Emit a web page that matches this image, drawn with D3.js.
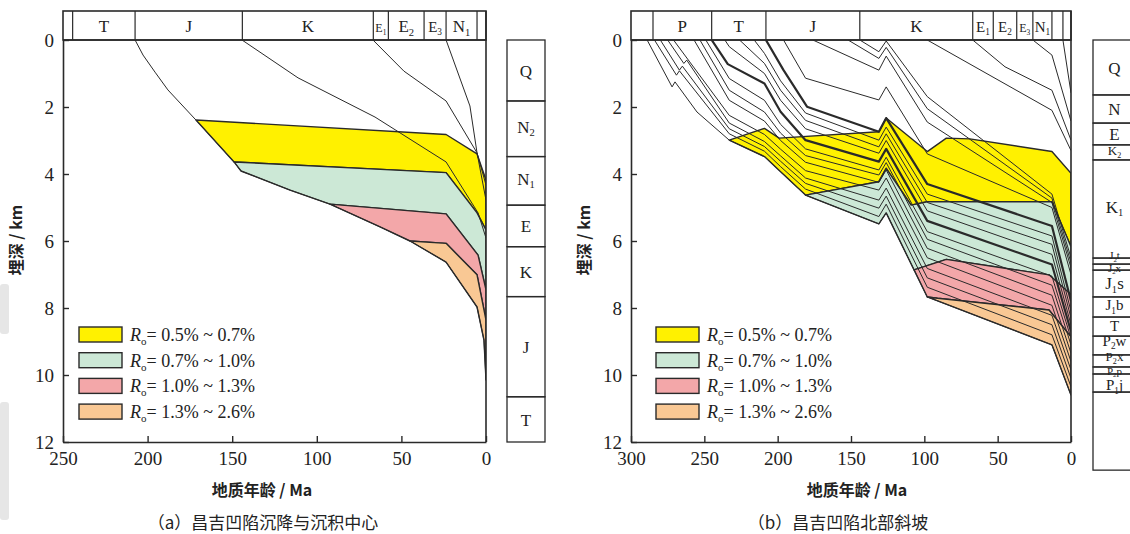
<!DOCTYPE html>
<html><head><meta charset="utf-8">
<script src="https://cdn.jsdelivr.net/npm/d3@7"></script>
<style>body{margin:0;background:#fff}svg{display:block}</style>
</head><body>
<svg id="c" width="1130" height="534"></svg>
<script>
// ---------------- shared data ----------------
const depthTicks=[0,2,4,6,8,10,12];
const ageTicksA=[250,200,150,100,50,0];
const ageTicksB=[300,250,200,150,100,50,0];
const roRanges=["0.5% ~ 0.7%","0.7% ~ 1.0%","1.0% ~ 1.3%","1.3% ~ 2.6%"];
const roColors=["#fff100","#cce8d6","#f3a7a9","#f9c894"];

// ---------------- panel (a) ----------------
const stripAgesA=[250,244.3,207.4,144,66.6,57.7,36.6,23.6,5.3,0];
const stripLabelsA=["","T","J","K","E_1","E_2","E_3","N_1",""];
const colDepthsA=[0,1.82,3.48,4.93,6.17,7.66,10.65,12.0];
const colLabelsA=["Q","N_2","N_1","E","K","J","T"];
const baseA=[[207.4,0],[202.7,0.45],[195.6,0.96],[188,1.49],[171.4,2.39],[148.9,3.64],[144.8,3.91],[115.8,4.48],[92.2,4.9],[62.6,5.58],[44.9,6.0],[23.6,6.63],[5.3,7.97],[1.2,8.96],[0,10.15]];
const horizKA=[[144.2,0],[111.1,1.13],[65.6,2.3],[23.6,3.64],[4.7,5.16],[0,5.91]];
const horizEA=[[66.8,0],[48.5,0.93],[23.6,1.82],[5.3,3.37],[0,4.78]];
const horizNA=[[23.6,0],[9.5,1.97],[5.3,3.37],[0,4.33]];
const ro05A=[[171.4,2.39],[23.6,2.82],[5.3,3.40],[0,4.18]];
const ro07A=[[148.9,3.64],[23.6,3.96],[5.3,5.16],[0,5.67]];
const ro10A=[[92.2,4.9],[23.6,5.19],[4.7,6.42],[0,7.46]];
const ro13A=[[44.9,6.0],[23.6,6.07],[5.3,7.01],[0,8.36]];

// ---------------- panel (b) ----------------
const stripAgesB=[300,285,245,208,144,67,53,37,26,13,5.5,0];
const stripLabelsB=["","P","T","J","K","E_1","E_2","E_3","N_1","",""];
const colDepthsB=[0,1.64,2.48,3.13,3.58,6.51,6.69,6.87,7.67,8.27,8.84,9.40,9.76,9.97,10.51,12.84];
const colLabelsB=["Q","N","E","K_2","K_1","J_2t","J_2x","J_1s","J_1b","T","P_2w","P_2x","P_2p","P_1j",""];
const h1B=[[289,0],[272,1.40],[270,1.25],[255,2.15],[233,2.99],[209,3.48],[198,3.93],[181,4.63],[131,5.49],[126,5.16],[98,7.67],[13,9.10],[0,10.60]];
const h2B=[[284,0],[269,1.05],[267,0.92],[233,2.80],[209,3.32],[198,3.78],[181,4.45],[131,5.27],[126,4.90],[98,7.38],[13,8.80],[0,10.35]];
const h3B=[[280,0],[267,0.90],[265,0.78],[233,2.65],[209,3.18],[198,3.62],[181,4.28],[131,5.02],[126,4.66],[98,7.10],[13,8.50],[0,10.10]];
const h4B=[[275,0],[264,0.70],[262,0.60],[233,2.48],[209,3.03],[198,3.46],[181,4.12],[131,4.78],[126,4.42],[98,6.82],[13,8.22],[0,9.85]];
const h5B=[[271,0],[233,2.25],[209,2.82],[198,3.26],[181,3.90],[131,4.48],[126,4.12],[98,6.50],[13,7.92],[0,9.60]];
const h6B=[[257,0],[233,1.80],[209,2.42],[198,3.00],[181,3.65],[131,4.25],[126,3.88],[98,6.22],[13,7.62],[0,9.35]];
const h7B=[[253,0],[233,1.50],[209,2.15],[198,2.78],[181,3.45],[131,4.03],[126,3.66],[98,5.95],[13,7.32],[0,9.10]];
const h8B=[[249,0],[233,1.15],[209,1.80],[198,2.52],[181,3.25],[131,3.88],[126,3.50],[98,5.72],[13,7.05],[0,8.90]];
const h9B=[[245,0],[234,0.72],[209,1.30],[198,2.14],[181,2.99],[131,3.63],[126,3.25],[98,5.40],[13,6.70],[0,8.70]];
const h10B=[[236,0],[233,0.20],[209,1.00],[198,1.80],[181,2.65],[131,3.38],[126,3.00],[98,5.10],[13,6.40],[0,8.50]];
const h11B=[[226,0],[209,0.70],[198,1.50],[181,2.40],[131,3.19],[126,2.80],[98,4.85],[13,6.10],[0,8.30]];
const h12B=[[216,0],[209,0.40],[198,1.22],[181,2.18],[131,2.99],[126,2.60],[98,4.60],[13,5.85],[0,8.10]];
const h13B=[[208,0],[196,0.90],[180,1.99],[131,2.74],[126,2.33],[98,4.30],[13,5.55],[0,7.80]];
const h14B=[[196,0],[181,1.14],[131,1.79],[126,1.40],[98,3.40],[13,5.00],[0,7.00]];
const h15B=[[176,0],[131,0.90],[126,0.48],[98,2.45],[13,4.85],[0,6.80]];
const h16B=[[152,0],[131,0.55],[126,0.22],[98,2.05],[13,4.72],[0,6.65]];
const h17B=[[144,0],[131,0.35],[126,0.03],[98,1.69],[13,4.60],[0,6.50]];
const h18B=[[98,0],[13,2.10],[0,3.30]];
const h19B=[[67,0],[45,0.80],[13,1.50],[0,2.99]];
const h20B=[[26,0],[13,0.45],[0,2.42]];
const h21B=[[5.5,0],[0,1.58]];
const boldStartsB=[245,208];
const ro05B=[[233,2.99],[209,2.64],[199,2.93],[131,2.74],[126,2.33],[98,3.33],[85,2.93],[69,2.95],[13,3.33],[0,3.98]];
const ro07B=[[181,4.63],[131,4.23],[126,3.83],[109,4.93],[98,4.83],[13,4.83],[0,6.17]];
const ro10B=[[107,6.86],[85,6.55],[15,7.01],[0,7.60]];
const ro13B=[[98,7.67],[91,7.71],[15,8.06],[0,8.86]];

// ---------------- helpers ----------------
const svg=d3.select("#c");
const SERIF="'Liberation Serif','Times New Roman',serif";
const CJK="'Noto Sans CJK SC','Noto Sans',sans-serif";
const INK="#2a2a2a";

// faint scan marks at the left margin of the original page
svg.append("rect").attr("x",0).attr("y",284).attr("width",9).attr("height",50).attr("rx",3).attr("fill","#e6e6e6");
svg.append("rect").attr("x",0).attr("y",402).attr("width",9).attr("height",118).attr("rx",3).attr("fill","#e6e6e6");

function interp(line,a){
  for(let i=line.length-1;i>0;i--){
    const p=line[i-1],q=line[i];
    if(p[0]!==q[0]&&(p[0]-a)*(q[0]-a)<=0){const t=(a-p[0])/(q[0]-p[0]);return [a,p[1]+t*(q[1]-p[1])];}
  }
  return line[line.length-1];
}
function seg(line,aFrom,aTo){
  const lo=Math.min(aFrom,aTo),hi=Math.max(aFrom,aTo);
  let pts=line.filter(p=>p[0]>lo&&p[0]<hi).sort((a,b)=>b[0]-a[0]);
  pts=[interp(line,hi),...pts,interp(line,lo)];
  return aFrom>aTo?pts:pts.reverse();
}
function rich(sel,s,size){
  const m=s.match(/^([^_]*)(?:_(\d)(.*))?$/);
  sel.append("tspan").text(m[1]);
  if(m[2]){
    sel.append("tspan").attr("font-size",size*0.62).attr("dy",size*0.22).text(m[2]);
    if(m[3]) sel.append("tspan").attr("dy",-size*0.22).text(m[3]);
  }
}

function drawPanel(o){
  const x=d3.scaleLinear().domain([o.maxAge,0]).range([o.x0,o.x1]);
  const y=d3.scaleLinear().domain([0,12]).range([40,442]);
  const line=d3.line().x(d=>x(d[0])).y(d=>y(d[1]));
  const g=svg.append("g");
  const cid="clip"+o.id;
  svg.append("defs").append("clipPath").attr("id",cid).append("rect")
    .attr("x",o.x0).attr("y",40).attr("width",o.x1-o.x0).attr("height",402);
  const pg=g.append("g").attr("clip-path",`url(#${cid})`);

  // maturity zones
  const n=o.ro.length;
  o.ro.forEach((r,i)=>{
    const lower=i<n-1?o.ro[i+1].slice().reverse():[];
    const bFrom=i<n-1?o.ro[i+1][0][0]:0;
    const poly=[...r,...lower,...seg(o.base,bFrom,r[0][0])];
    pg.append("path").attr("d",line(poly)+"Z").attr("fill",roColors[i])
      .attr("stroke",INK).attr("stroke-width",1.4).attr("stroke-linejoin","round");
  });
  // burial curves
  o.horiz.forEach(h=>{
    pg.append("path").attr("d",line(h.pts)).attr("fill","none").attr("stroke",INK)
      .attr("stroke-width",h.bold?2.2:1).attr("stroke-linejoin","round");
  });

  // axes
  const ax=g.append("g").attr("transform",`translate(${o.x0},0)`)
    .call(d3.axisLeft(y).tickValues(depthTicks).tickSize(-6).tickSizeOuter(0).tickPadding(9).tickFormat(d3.format("d")));
  const bx=g.append("g").attr("transform",`translate(0,442)`)
    .call(d3.axisBottom(x).tickValues(o.ageTicks).tickSize(-6).tickSizeOuter(0).tickPadding(10).tickFormat(d3.format("d")));
  [ax,bx].forEach(a=>{
    a.select(".domain").attr("stroke",INK).attr("stroke-width",1.6);
    a.selectAll(".tick line").attr("stroke",INK).attr("stroke-width",1.4);
    a.selectAll("text").attr("font-family",SERIF).attr("font-size",19).attr("fill","#222");
  });
  g.append("line").attr("x1",x(0)).attr("x2",x(0)).attr("y1",11).attr("y2",442).attr("stroke",INK).attr("stroke-width",1.6);
  g.append("line").attr("x1",o.x0).attr("x2",x(0)).attr("y1",40).attr("y2",40).attr("stroke",INK).attr("stroke-width",1.6);

  // stratigraphic strip on top
  g.append("rect").attr("x",o.x0).attr("y",11).attr("width",x(0)-o.x0).attr("height",29)
    .attr("fill","none").attr("stroke",INK).attr("stroke-width",1.6);
  o.stripAges.slice(1,-1).forEach(a=>{
    g.append("line").attr("x1",x(a)).attr("x2",x(a)).attr("y1",11).attr("y2",40).attr("stroke",INK).attr("stroke-width",1.2);
  });
  o.stripLabels.forEach((l,i)=>{
    if(!l) return;
    const xa=x(o.stripAges[i]),xb=x(o.stripAges[i+1]);
    const w=xb-xa, fs=w<18?12:(w<26?15:17);
    const t=g.append("text").attr("x",(xa+xb)/2).attr("y",32).attr("text-anchor","middle")
      .attr("font-family",SERIF).attr("font-size",fs).attr("fill","#222");
    rich(t,l,fs);
  });

  // column of present-day strata
  o.colLabels.forEach((l,i)=>{
    const ya=y(o.colDepths[i]),yb=y(o.colDepths[i+1]);
    g.append("rect").attr("x",o.cx).attr("y",ya).attr("width",o.cw).attr("height",yb-ya)
      .attr("fill","none").attr("stroke",INK).attr("stroke-width",1.3);
  });
  // label placement: start centred in each box, then relax overlaps
  const labs=[];
  o.colLabels.forEach((l,i)=>{
    if(!l) return;
    const ya=y(o.colDepths[i]),yb=y(o.colDepths[i+1]);
    const hgt=yb-ya, fs=hgt<10?11:(hgt<16?13:(hgt<21?15:17));
    labs.push({l,fs,c:(ya+yb)/2,h:fs*1.1});
  });
  for(let it=0;it<300;it++){
    for(let k=0;k<labs.length-1;k++){
      const a=labs[k],b=labs[k+1];
      const need=(a.h+b.h)/2+0.5, gap=b.c-a.c;
      if(gap<need){const d=(need-gap)/2;a.c-=d;b.c+=d;}
    }
  }
  labs.forEach(d=>{
    const sub=d.l.includes("_");
    const t=g.append("text").attr("x",o.cx+o.cw/2).attr("y",d.c+d.fs*(sub?0.22:0.36)).attr("text-anchor","middle")
      .attr("font-family",SERIF).attr("font-size",d.fs).attr("fill","#222");
    rich(t,d.l,d.fs);
  });

  // legend
  roRanges.forEach((r,i)=>{
    const ly=327+i*25.7;
    g.append("rect").attr("x",o.lx).attr("y",ly).attr("width",43).attr("height",15)
      .attr("fill",roColors[i]).attr("stroke",INK).attr("stroke-width",1.4);
    const t=g.append("text").attr("x",o.lx+51).attr("y",ly+14).attr("font-family",SERIF)
      .attr("font-size",18).attr("fill","#222");
    t.append("tspan").attr("font-style","italic").text("R");
    t.append("tspan").attr("font-size",11).attr("dy",4).text("o");
    t.append("tspan").attr("dy",-4).text("= "+r);
  });

  // titles
  g.append("text").attr("transform",`translate(${o.ytx},240) rotate(-90)`).attr("text-anchor","middle")
    .attr("font-family",CJK).attr("font-weight","bold").attr("font-size",16).attr("fill","#222").text("埋深 / km");
  g.append("text").attr("x",o.xtx).attr("y",496).attr("text-anchor","middle")
    .attr("font-family",CJK).attr("font-weight","bold").attr("font-size",16).attr("fill","#222").text("地质年龄 / Ma");
  g.append("text").attr("x",o.capx).attr("y",529).attr("text-anchor","middle")
    .attr("font-family",CJK).attr("font-size",17).attr("fill","#222").text(o.caption);
}

drawPanel({id:"a",maxAge:250,x0:63,x1:486,ageTicks:ageTicksA,
  base:baseA,ro:[ro05A,ro07A,ro10A,ro13A],
  horiz:[{pts:baseA},{pts:horizKA},{pts:horizEA},{pts:horizNA}],
  stripAges:stripAgesA,stripLabels:stripLabelsA,
  colDepths:colDepthsA,colLabels:colLabelsA,cx:507,cw:38,
  lx:79,ytx:22,xtx:262,capx:263,caption:"（a）昌吉凹陷沉降与沉积中心"});

const horizB=[h1B,h2B,h3B,h4B,h5B,h6B,h7B,h8B,h9B,h10B,h11B,h12B,h13B,h14B,h15B,h16B,h17B,h18B,h19B,h20B,h21B]
  .map(p=>({pts:p,bold:boldStartsB.includes(p[0][0])}));
drawPanel({id:"b",maxAge:300,x0:631,x1:1071,ageTicks:ageTicksB,
  base:h1B,ro:[ro05B,ro07B,ro10B,ro13B],horiz:horizB,
  stripAges:stripAgesB,stripLabels:stripLabelsB,
  colDepths:colDepthsB,colLabels:colLabelsB,cx:1093,cw:43,
  lx:656,ytx:590,xtx:857,capx:838,caption:"（b）昌吉凹陷北部斜坡"});
</script>
</body></html>
